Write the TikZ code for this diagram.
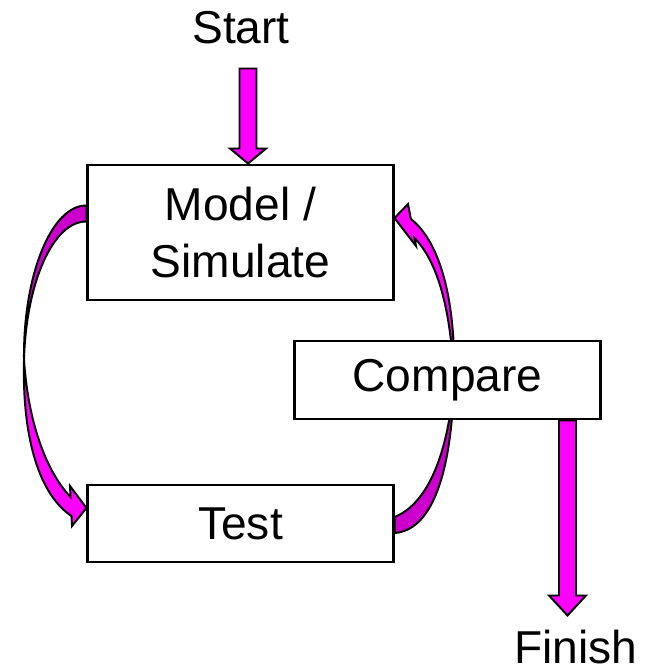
\documentclass[tikz,border=0pt]{standalone}
\usepackage{fontspec}
\setmainfont{Liberation Sans}
\usetikzlibrary{calc,backgrounds}
\definecolor{magfront}{RGB}{255,0,255}
\definecolor{magback}{RGB}{204,0,204}
\tikzset{
  stepbox/.style={rectangle,draw=black,line width=2.1pt,fill=white,align=center,
    minimum width=7.625cm,inner sep=0pt},
  flow/.style={draw=black,line width=1.4pt,fill=magfront,line join=miter},
  flowback/.style={flow,fill=magback}
}
\begin{document}
\begin{tikzpicture}[x=0.025cm,y=-0.025cm,font=\fontsize{32.8}{40.5}\selectfont]
\useasboundingbox (0,0) rectangle (646,672);

\node[stepbox,minimum height=3.375cm] (model) at (240.5,232.5) {Model /\\Simulate};
\node[stepbox,minimum height=1.95cm] (compare) at (447.5,380) {Compare};
\node[stepbox,minimum height=1.925cm] (test) at (240.5,523.5) {Test};
\node[anchor=base] (start) at (241,43) {Start};
\node[anchor=base] (finish) at (576,663) {Finish};
\coordinate (ltwist) at (24,360);
\coordinate (rtwist) at (454,380);

\begin{pgfonlayer}{background}
\draw[flow] ($(model.north)+(7.5,0)$) -- ++(-18,-15) -- ++(9.5,0) -- ++(0,-80) -- ++(17,0) -- ++(0,80) -- ++(9.5,0) -- cycle;
\draw[flow] ($(compare.south)+(111.5,0)$) -- ++(0,175) -- ++(-10,0) -- ++(18.5,20) -- ++(18.5,-20) -- ++(-10,0) -- ++(0,-175) -- cycle;

\draw[flowback] ($(model.west)+(0,-27)$) .. controls (52,205) and (23,274) .. (ltwist) .. controls (26,283) and (53,221) .. ($(model.west)+(0,-11)$) -- cycle;
\draw[flow] (ltwist) .. controls (22,440) and (40,495) .. (71.5,516) -- (72,526) -- ($(test.west)+(0,-15.5)$) -- (70,486) -- (70.5,497) .. controls (45,470) and (28,420) .. (ltwist) -- cycle;

\draw[flowback] ($(test.east)+(0,-6.5)$) .. controls (425,505) and (448,460) .. (rtwist) .. controls (452,465) and (435,530) .. ($(test.east)+(0,9.5)$) -- cycle;
\draw[flow] (rtwist) .. controls (456,300) and (440,242) .. (410.9,219) -- (408,204) -- ($(model.east)+(0,-14.5)$) -- (416,246) -- (414.5,238) .. controls (438,262) and (451,310) .. (rtwist) -- cycle;
\end{pgfonlayer}
\end{tikzpicture}
\end{document}
